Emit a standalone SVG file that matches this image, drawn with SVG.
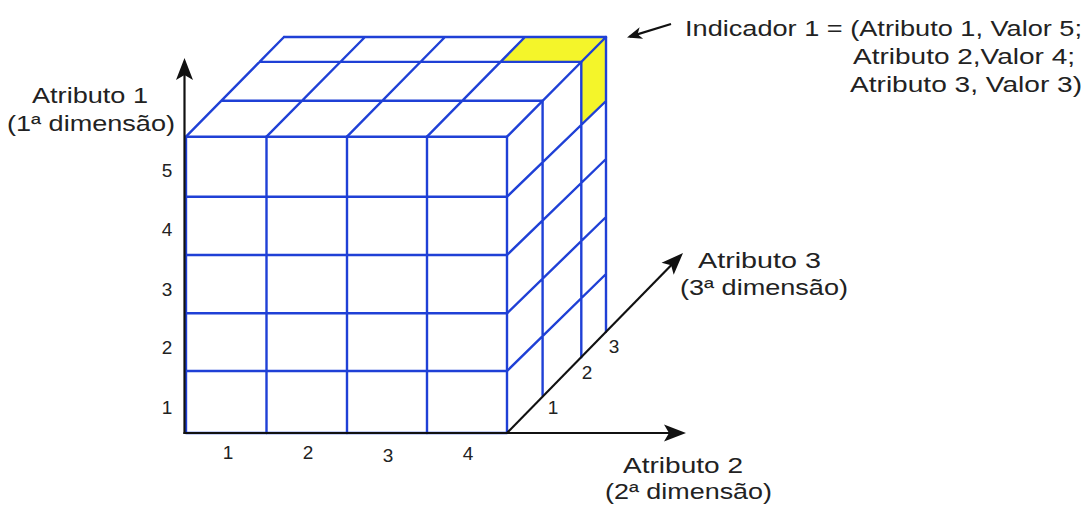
<svg xmlns="http://www.w3.org/2000/svg" width="1089" height="507" viewBox="0 0 1089 507">
<style>
.g{fill:none;stroke:#1f40d6;stroke-width:2.4;stroke-linecap:round;stroke-linejoin:round}
.y{fill:#f4f52a;stroke:none}
.ax{fill:none;stroke:#111;stroke-width:2.2}
.t{font-family:"Liberation Sans","DejaVu Sans",sans-serif;font-size:22px;fill:#222}
.n{font-family:"Liberation Sans","DejaVu Sans",sans-serif;font-size:19px;fill:#222;text-anchor:middle}
</style>
<defs>
<marker id="arr" markerUnits="userSpaceOnUse" markerWidth="30" markerHeight="30" viewBox="-25 -12 30 24" refX="0" refY="0" orient="auto" overflow="visible">
<path d="M4,0 L-18,-8.5 L-13,0 L-18,8.5 Z" fill="#111"/>
</marker>
<marker id="arrs" markerUnits="userSpaceOnUse" markerWidth="20" markerHeight="20" viewBox="-16 -8 20 16" refX="0" refY="0" orient="auto" overflow="visible">
<path d="M3,0 L-12,-6 L-8,0 L-12,6 Z" fill="#111"/>
</marker>
</defs>

<g id="cube">
<g id="highlight">
<polygon class="y" points="525,37 606,37 581.3,61.9 500.9,61.9"/>
<polygon class="y" points="581.3,61.9 606,37 606,101 581.3,124.9"/>
</g>
<g id="front-face">
<rect class="g" x="186" y="136.7" width="321" height="296.3"/>
<path class="g" d="M266.5,136.7V433 M347,136.7V433 M427,136.7V433 M186,196.7H507 M186,255H507 M186,313.3H507 M186,371H507"/>
</g>
<g id="top-face">
<path class="g" d="M284,37H606 M221.3,100.8H542.6 M259.5,61.9H581.3 M186,136.7L284,37 M266.5,136.7L365,37 M347,136.7L445,37 M427,136.7L525,37 M507,136.7L606,37"/>
</g>
<g id="right-face">
<path class="g" d="M542.6,100.8V395.2 M581.3,61.9V357.3 M606,37V331.7 M507,196.7L606,101 M507,255L606,159 M507,313.3L606,217 M507,371L606,274"/>
</g>
</g>

<g id="connectors">
<line class="ax" x1="184.5" y1="434" x2="184.5" y2="62" marker-end="url(#arr)"/>
<line class="ax" x1="183.5" y1="433" x2="682" y2="433" marker-end="url(#arr)"/>
<line class="ax" x1="507" y1="433" x2="680.2" y2="255.9" marker-end="url(#arr)"/>
<line class="ax" x1="671" y1="24" x2="629.9" y2="36.6" marker-end="url(#arrs)" stroke-width="2"/>
</g>

<g id="labels">
<text class="t" x="685" y="36" textLength="397" lengthAdjust="spacingAndGlyphs">Indicador 1 = (Atributo 1, Valor 5;</text>
<text class="t" x="853" y="64" textLength="222" lengthAdjust="spacingAndGlyphs">Atributo 2,Valor 4;</text>
<text class="t" x="850" y="92" textLength="232" lengthAdjust="spacingAndGlyphs">Atributo 3, Valor 3)</text>
<text class="t" x="32" y="103" textLength="116" lengthAdjust="spacingAndGlyphs">Atributo 1</text>
<text class="t" x="7" y="131" textLength="168" lengthAdjust="spacingAndGlyphs">(1ª dimensão)</text>
<text class="t" x="698" y="268" textLength="123" lengthAdjust="spacingAndGlyphs">Atributo 3</text>
<text class="t" x="680" y="295" textLength="168" lengthAdjust="spacingAndGlyphs">(3ª dimensão)</text>
<text class="t" x="623" y="473" textLength="120" lengthAdjust="spacingAndGlyphs">Atributo 2</text>
<text class="t" x="605" y="498.5" textLength="167" lengthAdjust="spacingAndGlyphs">(2ª dimensão)</text>
</g>

<g id="axis-numbers">
<text class="n" x="167" y="177">5</text>
<text class="n" x="167" y="236">4</text>
<text class="n" x="167" y="296">3</text>
<text class="n" x="167" y="354">2</text>
<text class="n" x="167" y="414">1</text>
<text class="n" x="228" y="459">1</text>
<text class="n" x="308" y="459">2</text>
<text class="n" x="388" y="462">3</text>
<text class="n" x="468" y="460">4</text>
<text class="n" x="553" y="414">1</text>
<text class="n" x="587" y="379">2</text>
<text class="n" x="614" y="353">3</text>
</g>
</svg>
